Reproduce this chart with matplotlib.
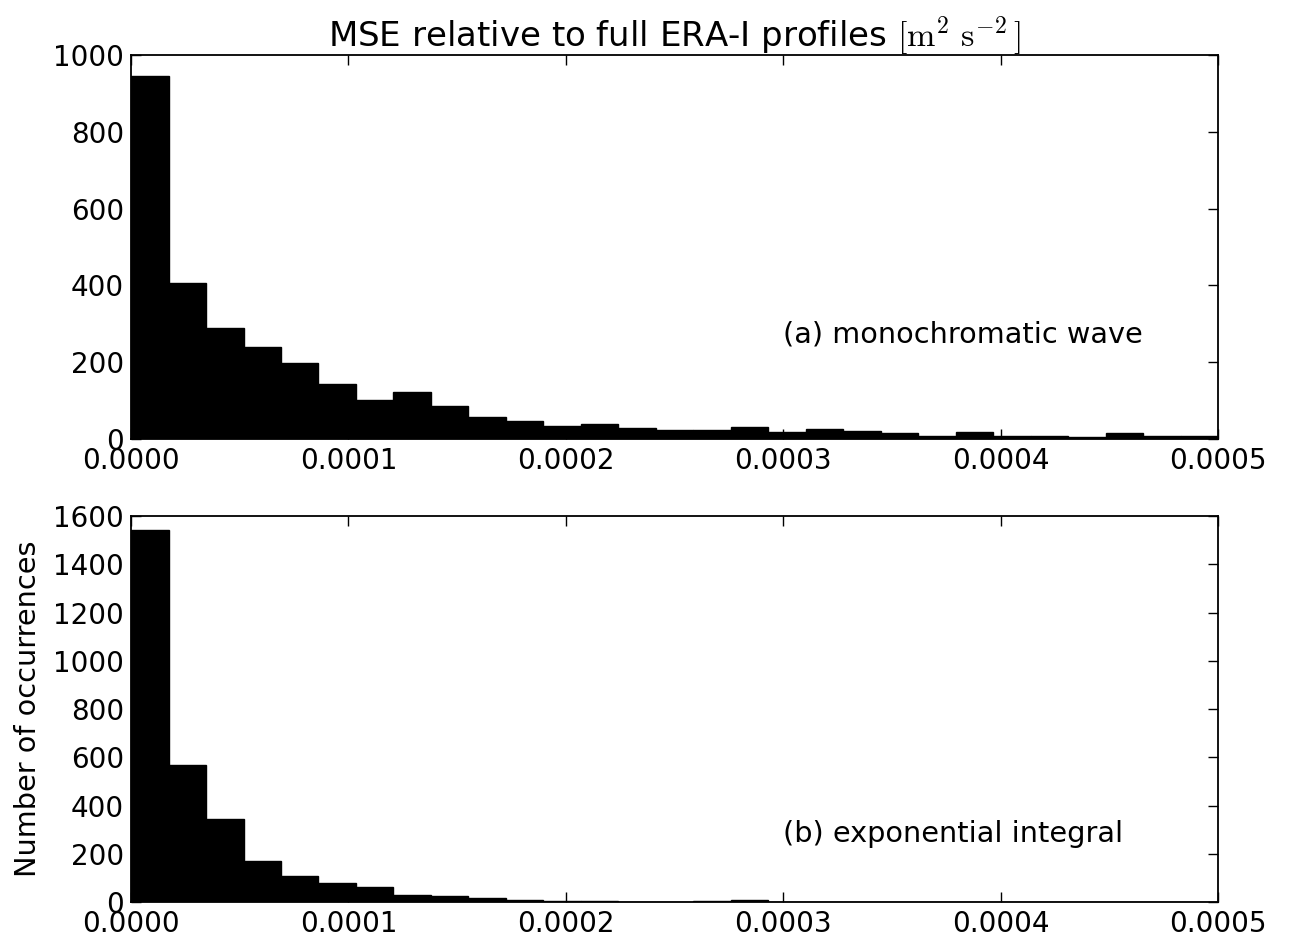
import numpy as np
import matplotlib
matplotlib.use("Agg")
import matplotlib.pyplot as plt

# histogram counts (29 equal bins between 0 and 5e-4)
bin_lo, bin_hi, n_bins = 0.0, 0.0005, 29
counts_mono = [946, 407, 290, 240, 197, 142, 101, 122, 86, 56, 46, 33, 40, 28, 23,
               24, 32, 17, 27, 22, 15, 8, 17, 8, 7, 5, 15, 9, 9]
counts_expint = [1543, 566, 344, 169, 109, 80, 62, 27, 24, 18, 10, 5, 3, 2, 2,
                 3, 8, 2, 1, 1, 1, 1, 0, 1, 0, 0, 1, 0, 0]
labels = ["(a) monochromatic wave", "(b) exponential integral"]
yticks_top = [0, 200, 400, 600, 800, 1000]
yticks_bot = [0, 200, 400, 600, 800, 1000, 1200, 1400, 1600]
xticks = [0.0, 0.0001, 0.0002, 0.0003, 0.0004, 0.0005]

plt.rcParams['font.family'] = ['DejaVu Sans']
plt.rcParams['mathtext.fontset'] = 'cm'

edges = np.linspace(bin_lo, bin_hi, n_bins + 1)
width = edges[1] - edges[0]

fig = plt.figure(figsize=(12.9, 9.39), dpi=100)
ax1 = fig.add_axes([0.1016, 0.5325, 0.8426, 0.409])
ax2 = fig.add_axes([0.1016, 0.0394, 0.8426, 0.411])

for ax, counts, lab, yt in [(ax1, counts_mono, labels[0], yticks_top),
                            (ax2, counts_expint, labels[1], yticks_bot)]:
    ax.bar(edges[:-1], counts, width=width, align='edge', color='black',
           edgecolor='black', linewidth=1.0)
    ax.set_xlim(bin_lo, bin_hi)
    ax.set_ylim(yt[0], yt[-1])
    ax.set_yticks(yt)
    ax.set_xticks(xticks)
    ax.set_xticklabels(["%.4f" % v for v in xticks])
    ax.tick_params(direction='in', length=7, width=1, top=True, right=True,
                   pad=5, labelsize=20)
    ax.tick_params(axis='x', pad=6)
    for s in ax.spines.values():
        s.set_linewidth(1.3)
    ax.text(0.0003, 250, lab, fontsize=20.7)

ax1.set_title(r"MSE relative to full ERA-I profiles $[\mathrm{m}^2\ \mathrm{s}^{-2}\,]$",
              fontsize=24.5, pad=6)
ax2.set_ylabel("Number of occurrences", fontsize=20.7, labelpad=8)

fig.savefig("out.png", dpi=100)
